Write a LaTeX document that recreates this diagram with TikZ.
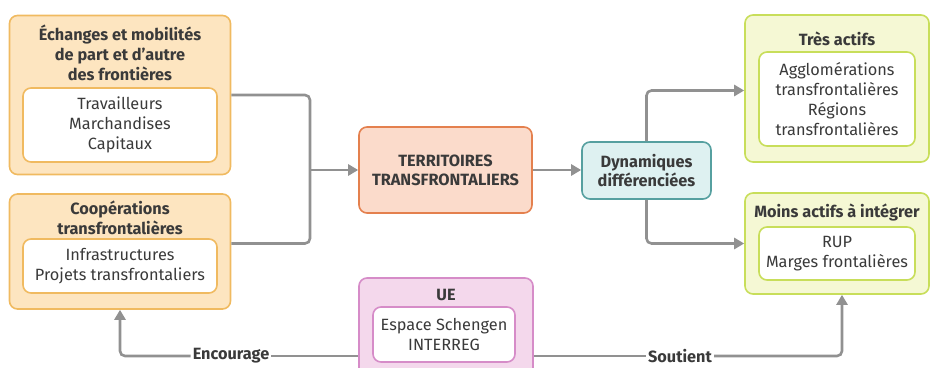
\documentclass[tikz,border=0pt]{standalone}
\usepackage{fontspec}
\setmainfont{Fira Sans}
\usetikzlibrary{arrows.meta}

\definecolor{txt}{RGB}{58,58,58}
\definecolor{lineg}{RGB}{145,145,145}
\definecolor{orFill}{RGB}{253,229,192}
\definecolor{orLine}{RGB}{240,186,96}
\definecolor{teFill}{RGB}{251,219,203}
\definecolor{teLine}{RGB}{228,128,78}
\definecolor{dyFill}{RGB}{222,241,241}
\definecolor{dyLine}{RGB}{86,160,160}
\definecolor{grFill}{RGB}{245,248,212}
\definecolor{grLine}{RGB}{200,222,90}
\definecolor{ueFill}{RGB}{244,216,236}
\definecolor{ueLine}{RGB}{214,140,200}

\tikzset{
  x=1pt, y=-1pt,
  every node/.style={text=txt, font=\fontsize{16.3}{20}\selectfont, align=center, inner sep=0pt},
  outerbox/.style={draw=#1Line, fill=#1Fill, line width=1.6pt, rounded corners=8pt},
  innerbox/.style={draw=#1Line, fill=white, line width=1.6pt, rounded corners=8pt},
  title/.style={font=\fontsize{16.3}{20}\selectfont\bfseries},
  conn/.style={draw=lineg, line width=2.6pt, rounded corners=5pt},
  tip/.style={-{Triangle[length=10pt,width=11pt]}},
  lbl/.style={fill=white, inner xsep=2pt, inner ysep=2pt, font=\fontsize{16.3}{20}\selectfont\bfseries}
}

\begin{document}
\begin{tikzpicture}
\useasboundingbox (0,0) rectangle (931,367);
\clip (0,0) rectangle (931,367);

% Left column: exchanges and cooperation
\node[outerbox=or, minimum width=221pt, minimum height=159pt] (ech) at (120,95) {};
\node[title] (echT) at (120,53) {Échanges et mobilités\\de part et d’autre\\des frontières};
\node[innerbox=or, minimum width=194pt, minimum height=74pt] (echI) at (120,125) {Travailleurs\\Marchandises\\Capitaux};

\node[outerbox=or, minimum width=221pt, minimum height=115pt] (coop) at (120,251.5) {};
\node[title] (coopT) at (120,218) {Coopérations\\transfrontalières};
\node[innerbox=or, minimum width=194pt, minimum height=54pt] (coopI) at (120,266) {Infrastructures\\Projets transfrontaliers};

% Centre
\node[outerbox=te, minimum width=173pt, minimum height=86pt, font=\fontsize{16.3}{19}\selectfont\bfseries] (ter) at (445.5,170) {TERRITOIRES\\TRANSFRONTALIERS};
\node[outerbox=dy, minimum width=129pt, minimum height=57pt, font=\fontsize{16.3}{19}\selectfont\bfseries] (dyn) at (646.5,170.5) {Dynamiques\\différenciées};

% Right column
\node[outerbox=gr, minimum width=184pt, minimum height=147pt] (tres) at (837,88.5) {};
\node[title] (tresT) at (837,39) {Très actifs};
\node[innerbox=gr, minimum width=156pt, minimum height=94pt] (tresI) at (837,99) {Agglomérations\\transfrontalières\\Régions\\transfrontalières};

\node[outerbox=gr, minimum width=184pt, minimum height=101pt] (moins) at (837,243.5) {};
\node[title] (moinsT) at (837,212) {Moins actifs à intégrer};
\node[innerbox=gr, minimum width=156pt, minimum height=53pt] (moinsI) at (837,253.5) {RUP\\Marges frontalières};

% European Union
\node[outerbox=ue, minimum width=174pt, minimum height=102pt] (ue) at (446,329) {};
\node[title] (ueT) at (446,295) {UE};
\node[innerbox=ue, minimum width=142pt, minimum height=55pt] (ueI) at (444,334.5) {Espace Schengen\\INTERREG};

% Connectors
\coordinate (j) at (310,170);
\draw[conn] (ech.east) -| (j) |- ([yshift=8pt]coop.east);
\draw[conn,tip] (j) -- (ter.west);
\draw[conn,tip] (ter.east) -- (ter.east -| dyn.west);
\draw[conn,tip] (dyn.north) |- ([yshift=-2pt]tres.west);
\draw[conn,tip] (dyn.south) |- (moins.west);

\node[lbl] (enc) at (231,356) {Encourage};
\node[lbl] (sou) at (680,356) {Soutient};
\draw[conn] (ue.west |- enc) -- (enc.east);
\draw[conn,tip] (enc.west) -| (coop.south);
\draw[conn] (ue.east |- sou) -- (sou.west);
\draw[conn,tip] (sou.east) -| ([xshift=5pt]moins.south);
\end{tikzpicture}
\end{document}
